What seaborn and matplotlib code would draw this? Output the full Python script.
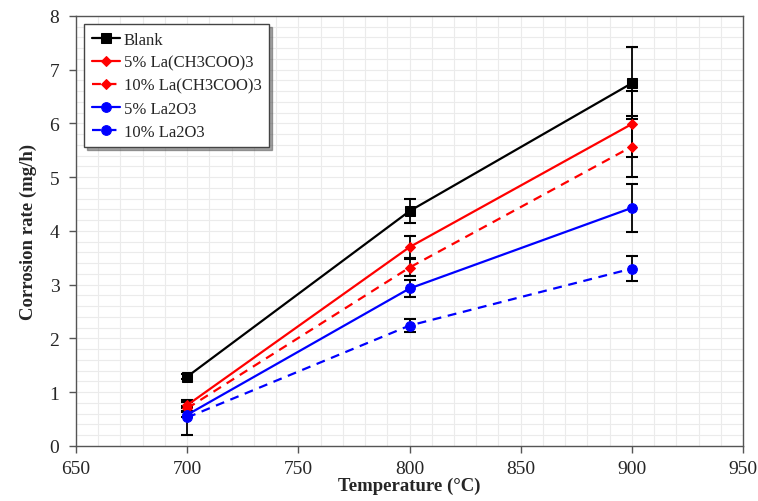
import numpy as np
import pandas as pd
import matplotlib
matplotlib.use("Agg")
import matplotlib.pyplot as plt
import seaborn as sns

temps = [700, 800, 900]
series = ["Blank", "5% La(CH3COO)3", "10% La(CH3COO)3", "5% La2O3", "10% La2O3"]
blank = [1.29, 4.37, 6.75]
la_ac_5 = [0.76, 3.70, 5.99]
la_ac_10 = [0.70, 3.32, 5.57]
la2o3_5 = [0.58, 2.93, 4.43]
la2o3_10 = [0.53, 2.24, 3.30]
err_blank = [0.04, 0.22, 0.67]
err_ac_5 = [0.05, 0.20, 0.62]
err_ac_10 = [0.05, 0.16, 0.56]
err_o3_5 = [0.05, 0.15, 0.45]
err_o3_10 = [0.33, 0.12, 0.23]

values = [blank, la_ac_5, la_ac_10, la2o3_5, la2o3_10]
errors = [err_blank, err_ac_5, err_ac_10, err_o3_5, err_o3_10]
colors = ["black", "#ff0000", "#ff0000", "#0000ff", "#0000ff"]
markers = ["s", "D", "D", "o", "o"]
msizes = [7, 5, 5, 7, 7]
dashes = [None, None, (4, 3), None, (4, 3)]

df = pd.DataFrame({
    "Temperature": temps * len(series),
    "Rate": sum(values, []),
    "Series": np.repeat(series, len(temps)),
})

sns.set_theme(style="white")
plt.rcParams["font.family"] = ["Liberation Serif", "DejaVu Serif"]

fig = plt.figure(figsize=(7.58, 5.02), dpi=100)
ax = fig.add_axes([0.1003, 0.1096, 0.880, 0.8566])

for name, y, e, c, m, ms, d in zip(series, values, errors, colors, markers, msizes, dashes):
    sub = df[df["Series"] == name]
    ax.errorbar(temps, y, yerr=e, fmt="none", ecolor="black", elinewidth=1.3,
                capsize=4, capthick=1.5, zorder=2)
    sns.lineplot(data=sub, x="Temperature", y="Rate", ax=ax, color=c,
                 marker=m, markersize=ms, markeredgecolor=c, linewidth=1.6,
                 label=name, zorder=3)
    if d is not None:
        ax.lines[-1].set_dashes(d)

ax.set_xlim(650, 950)
ax.set_ylim(0, 8)
ax.set_xticks(np.arange(650, 951, 50))
ax.set_yticks(np.arange(0, 9, 1))
ax.set_xticks(np.arange(650, 951, 10), minor=True)
ax.set_yticks(np.arange(0, 8.01, 0.2), minor=True)
ax.grid(which="both", color="#ebebeb", linewidth=0.8)
ax.set_axisbelow(True)
for s in ax.spines.values():
    s.set_color("#555555")
    s.set_linewidth(1.0)
ax.tick_params(which="major", direction="out", length=5, width=1, color="#555555",
               labelsize=14, left=True, bottom=True)
ax.tick_params(axis="y", pad=7)
ax.tick_params(axis="x", pad=5)
ax.tick_params(which="minor", length=0)

ax.set_xlabel("Temperature (°C)", fontsize=13.5, fontweight="bold", labelpad=0)
ax.set_ylabel("Corrosion rate (mg/h)", fontsize=13.5, fontweight="bold", labelpad=9)

leg = ax.legend(loc="upper left", bbox_to_anchor=(0.0, 1.0), fontsize=12,
                frameon=True, fancybox=False, shadow=True, edgecolor="#444444",
                handlelength=1.7, handletextpad=0.2, borderpad=0.45, labelspacing=0.42)
leg.get_frame().set_linewidth(1.0)

fig.savefig("out.png", dpi=100)
